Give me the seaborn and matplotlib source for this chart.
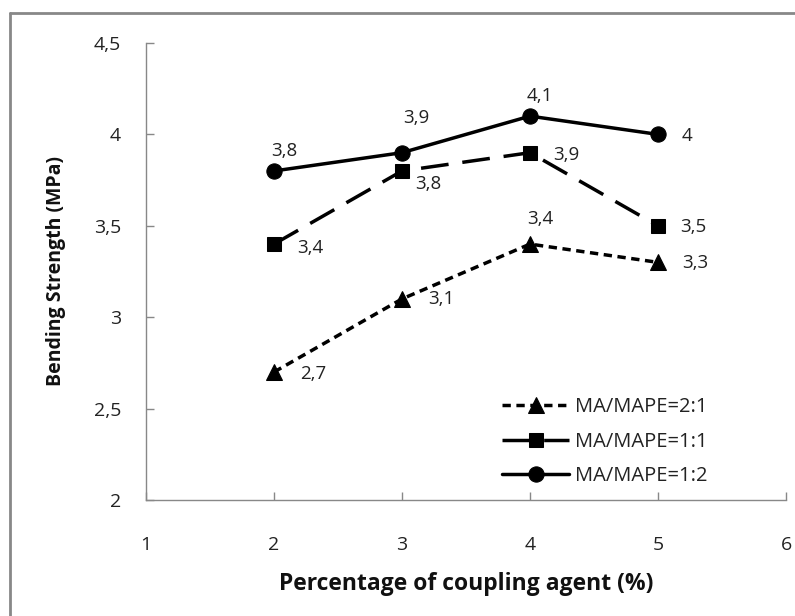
import matplotlib
matplotlib.use("Agg")
import matplotlib.pyplot as plt
import seaborn as sns
import pandas as pd
from matplotlib.lines import Line2D
from matplotlib.ticker import FuncFormatter

# Data
coupling = [2, 3, 4, 5]
series_names = ["MA/MAPE=2:1", "MA/MAPE=1:1", "MA/MAPE=1:2"]
ma_2_1 = [2.7, 3.1, 3.4, 3.3]
ma_1_1 = [3.4, 3.8, 3.9, 3.5]
ma_1_2 = [3.8, 3.9, 4.1, 4.0]
x_ticks = [1, 2, 3, 4, 5, 6]
y_ticks = [2, 2.5, 3, 3.5, 4, 4.5]

sns.set_theme(style="white")
plt.rcParams['font.family'] = ['Open Sans', 'DejaVu Sans']

fig = plt.figure(figsize=(7.95, 6.16), dpi=100)
ax = fig.add_axes([146/795, 1 - 500/616, (786-146)/795, (500-43)/616])

df = pd.concat([
    pd.DataFrame({"x": coupling, "y": ma_2_1, "s": series_names[0]}),
    pd.DataFrame({"x": coupling, "y": ma_1_1, "s": series_names[1]}),
    pd.DataFrame({"x": coupling, "y": ma_1_2, "s": series_names[2]}),
])

styles = {
    series_names[0]: dict(marker="^", dashes=(2.4, 1.6)),
    series_names[1]: dict(marker="s", dashes=(8, 4)),
    series_names[2]: dict(marker="o", dashes=None),
}
msize = {"^": 11.5, "s": 10.5, "o": 11}
for name in series_names:
    sub = df[df.s == name]
    st = styles[name]
    sns.lineplot(x="x", y="y", data=sub, ax=ax, color="black", lw=2.5,
                 marker=st["marker"], markersize=msize[st["marker"]],
                 markeredgecolor="black", label=name)
    l = ax.lines[-1]
    if st["dashes"] is not None:
        l.set_dashes(st["dashes"])

def lab(x, y, dx, dy, ha="left", va="center"):
    ax.annotate(f"{y:g}".replace(".", ","), (x, y), xytext=(dx, dy),
                textcoords="offset pixels", ha=ha, va=va, fontsize=13.5,
                color="#222222")

# labels for 1:2
lab(2, ma_1_2[0], -3, 20)
lab(3, ma_1_2[1], 1, 35)
lab(4, ma_1_2[2], -3, 20)
lab(5, ma_1_2[3], 24, -2)
# labels for 1:1
lab(2, ma_1_1[0], 23, -4)
lab(3, ma_1_1[1], 13, -13)
lab(4, ma_1_1[2], 23, -2)
lab(5, ma_1_1[3], 22, -1)
# labels for 2:1
lab(2, ma_2_1[0], 26, -2)
lab(3, ma_2_1[1], 26, 0)
lab(4, ma_2_1[2], -3, 25)
lab(5, ma_2_1[3], 24, -1)

ax.set_xlim(1, 6)
ax.set_ylim(2, 4.5)
ax.set_xticks(x_ticks)
ax.set_yticks(y_ticks)
fmt = FuncFormatter(lambda v, p: (f"{v:g}").replace(".", ","))
ax.xaxis.set_major_formatter(fmt)
ax.yaxis.set_major_formatter(fmt)
ax.tick_params(axis="both", direction="in", length=6, width=1, color="#888888",
               labelsize=14, labelcolor="#222222")
ax.tick_params(axis="x", pad=26, bottom=True)
ax.tick_params(axis="y", pad=18, left=True)
for s in ["top", "right"]:
    ax.spines[s].set_visible(False)
for s in ["left", "bottom"]:
    ax.spines[s].set_color("#888888")
    ax.spines[s].set_linewidth(1)

ax.set_xlabel("Percentage of coupling agent (%)", fontsize=16.5, fontweight="bold",
              labelpad=13, color="#111111")
ax.set_ylabel("Bending Strength (MPa)", fontsize=14, fontweight="bold",
              labelpad=20, color="#111111")

leg = ax.legend(loc="lower left", bbox_to_anchor=(0.541, 0.008), frameon=False,
                borderpad=0, fontsize=14.5, handlelength=3.3, labelspacing=0.72,
                handletextpad=0.3)
for t in leg.get_texts():
    t.set_color("#222222")

# outer border (left and top visible)
fig.add_artist(Line2D([10/795, 10/795], [0, 1 - 13/616], transform=fig.transFigure,
                      color="#888888", lw=2))
fig.add_artist(Line2D([10/795, 1], [1 - 13/616, 1 - 13/616], transform=fig.transFigure,
                      color="#888888", lw=2))

fig.savefig("out.png", dpi=100)
